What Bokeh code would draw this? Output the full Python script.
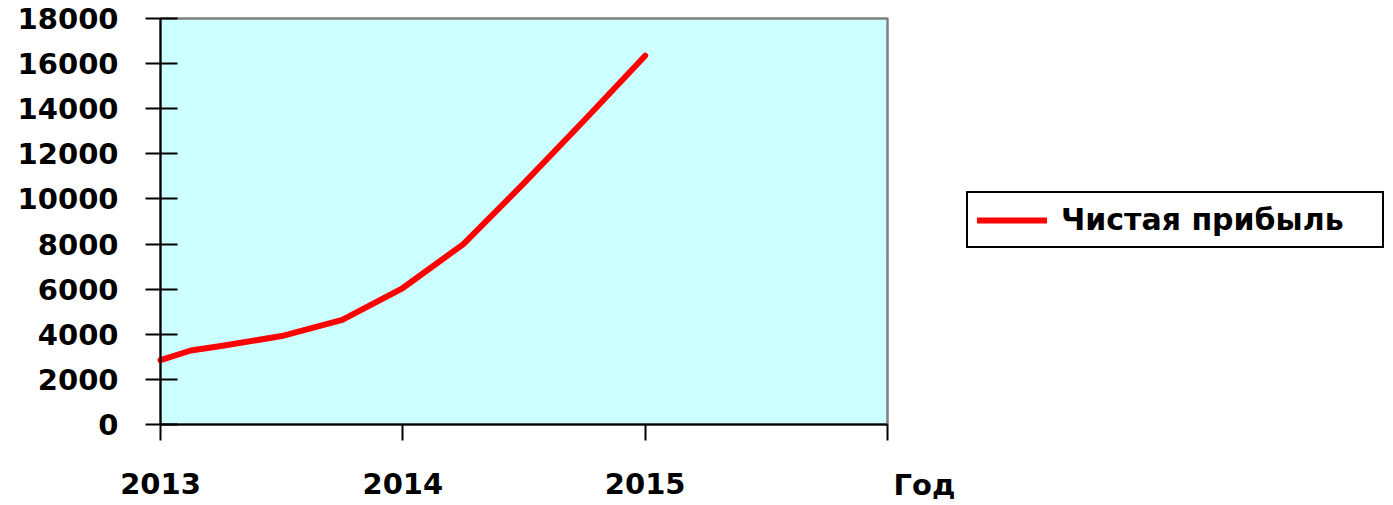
from bokeh.plotting import figure
from bokeh.models import (Range1d, FixedTicker, NumeralTickFormatter, Legend, LegendItem,
                          Label, BoxAnnotation)
from bokeh.embed import file_html
from bokeh.resources import INLINE

# data
years = [2013.0, 2013.125, 2013.25, 2013.5, 2013.75, 2014.0, 2014.25, 2014.5, 2014.75, 2015.0]
profit = [2850, 3280, 3480, 3920, 4640, 6050, 8000, 10700, 13500, 16350]
x_ticks = [2013, 2014, 2015, 2016]
x_tick_labels = {2013: "2013", 2014: "2014", 2015: "2015", 2016: ""}
y_ticks = list(range(0, 18001, 2000))
series_name = "Чистая прибыль"
x_title = "Год"

X0, X1 = 2013, 2016
Y0, Y1 = 0, 18000

W, H = 1392, 504
LEFT, TOP = 160, 18          # pixel position of the plot area inside the canvas
px_per_x = 727 / (X1 - X0)
px_per_y = 406 / (Y1 - Y0)
x_start = X0 - LEFT / px_per_x
x_end = X0 + (W - LEFT) / px_per_x
y_end = Y1 + TOP / px_per_y
y_start = Y1 - (H - TOP) / px_per_y

p = figure(width=W, height=H, output_backend="svg", toolbar_location=None,
           x_range=Range1d(x_start, x_end), y_range=Range1d(y_start, y_end),
           min_border_left=0, min_border_right=0, min_border_top=0, min_border_bottom=0)

p.background_fill_color = "white"
p.border_fill_color = "white"
p.outline_line_color = None
p.xgrid.visible = False
p.ygrid.visible = False

plot_area = BoxAnnotation(left=X0, right=X1, bottom=Y0, top=Y1, fill_color="#CCFFFF", fill_alpha=1,
                          line_color="#808080", line_width=2.5, line_alpha=1, level="underlay")
p.add_layout(plot_area)

# y axis
ya = p.yaxis[0]
ya.fixed_location = X0
ya.ticker = FixedTicker(ticks=y_ticks)
ya.bounds = (Y0, Y1)
ya.formatter = NumeralTickFormatter(format="0")
ya.axis_line_color = "black"
ya.axis_line_width = 2
ya.major_tick_line_color = "black"
ya.major_tick_line_width = 2
ya.major_tick_out = 15
ya.major_tick_in = 17
ya.minor_tick_line_color = None
ya.major_label_standoff = 27
ya.major_label_text_font = "DejaVu Sans"
ya.major_label_text_font_style = "bold"
ya.major_label_text_font_size = "29px"
ya.major_label_text_color = "black"

# x axis
xa = p.xaxis[0]
xa.fixed_location = Y0
xa.ticker = FixedTicker(ticks=x_ticks)
xa.bounds = (X0, X1)
xa.major_label_overrides = x_tick_labels
xa.axis_line_color = "black"
xa.axis_line_width = 2
xa.major_tick_line_color = "black"
xa.major_tick_line_width = 2
xa.major_tick_out = 16
xa.major_tick_in = 0
xa.minor_tick_line_color = None
xa.major_label_standoff = 32
xa.major_label_text_font = "DejaVu Sans"
xa.major_label_text_font_style = "bold"
xa.major_label_text_font_size = "29px"
xa.major_label_text_color = "black"

r = p.line(years, profit, line_color="#FF0000", line_width=6, line_cap="round", line_join="round")

lab = Label(x=X1, y=-43 / px_per_y, text=x_title, x_offset=6, text_baseline="top",
            text_font="DejaVu Sans", text_font_style="bold", text_font_size="29px", text_color="black")
p.add_layout(lab)

legend = Legend(items=[LegendItem(label=series_name, renderers=[r])],
                location=(966, H - 248), margin=0, padding=9, spacing=0,
                glyph_width=70, glyph_height=30, label_standoff=14, label_width=312,
                label_text_font="DejaVu Sans", label_text_font_style="bold",
                label_text_font_size="30px", label_text_color="black",
                border_line_color="black", border_line_width=2, border_line_alpha=1,
                background_fill_color="white", background_fill_alpha=1)
p.add_layout(legend)

open("out.html", "w").write(file_html(p, INLINE))
